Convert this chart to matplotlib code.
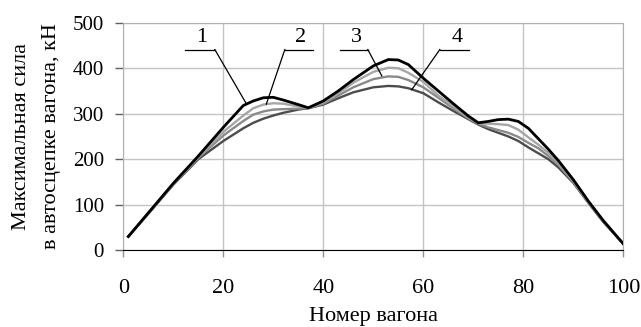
import numpy as np
import matplotlib.pyplot as plt

plt.rcParams['font.family'] = ['Liberation Serif', 'DejaVu Serif']

# номер вагона
x = [1, 5, 10, 15, 20, 24, 26, 28, 30, 32, 35, 37, 40, 43, 46, 50, 53, 55, 57,
     60, 63, 66, 69, 71, 73, 75, 77, 79, 81, 83, 85, 87, 90, 93, 96, 100]

# максимальная сила, кН
f1 = [30, 82, 147, 207, 270, 318, 328, 335, 336, 330, 320, 313, 328, 350, 375, 405, 419, 418, 408,
      378, 350, 322, 295, 280, 283, 287, 288, 283, 268, 245, 222, 197, 155, 108, 65, 14]
f2 = [30, 82, 146, 205, 260, 296, 312, 320, 323, 322, 316, 313, 325, 345, 368, 392, 401, 400, 390,
      370, 340, 316, 292, 279, 278, 277, 275, 265, 248, 232, 214, 192, 152, 106, 64, 14]
f3 = [30, 81, 145, 203, 252, 284, 298, 305, 309, 310, 311, 312, 322, 340, 358, 376, 382, 381, 374,
      358, 335, 312, 290, 278, 270, 264, 258, 249, 236, 224, 207, 188, 150, 105, 63, 14]
f4 = [30, 80, 144, 200, 240, 268, 280, 289, 296, 302, 309, 312, 320, 334, 347, 358, 361, 360, 356,
      345, 325, 306, 288, 276, 266, 258, 250, 240, 226, 213, 200, 182, 148, 104, 62, 14]

fig = plt.figure(figsize=(6.41, 3.27), dpi=100)
ax = fig.add_axes([0.1924, 0.2349, 0.78, 0.6957])

ax.plot(x, f4, color='#4c4c4c', lw=1.7, zorder=3)
ax.plot(x, f3, color='#8a8a8a', lw=1.7, zorder=3)
ax.plot(x, f2, color='#a6a6a6', lw=1.7, zorder=3)
ax.plot(x, f1, color='black', lw=2.0, zorder=4)

ax.set_xlim(0, 100)
ax.set_ylim(0, 500)
ax.set_xticks(np.arange(0, 101, 20))
ax.set_yticks(np.arange(0, 501, 100))
ax.grid(True, color='#c4c4c4', lw=1)
ax.set_axisbelow(True)
for s in ['top', 'right', 'left']:
    ax.spines[s].set_color('#b0b0b0')
ax.spines['bottom'].set_color('black')
ax.tick_params(axis='x', length=5, width=1, color='#909090', pad=16, labelsize=16)
ax.tick_params(axis='y', length=6, width=1, color='#606060', pad=8, labelsize=15)

ax.set_xlabel('Номер вагона', fontsize=16, va='center')
ax.xaxis.set_label_coords(0.5, -0.29)
ax.set_ylabel('Максимальная сила\nв автосцепке вагона, кН', fontsize=16,
              linespacing=1.75, va='center')
ax.yaxis.set_label_coords(-0.174, 0.5)

# подписи кривых с выносками
labels = ['1', '2', '3', '4']
text_x = [15.7, 35.5, 46.7, 66.7]
shelf = [(12.3, 18.3), (32.3, 37.9), (43.3, 48.9), (63.3, 69.1)]
start_x = [18.3, 32.3, 48.9, 63.3]
tip = [(24.6, 322), (28.6, 321), (51.7, 383), (57.7, 353)]
for lab, tx, (a, b), sx, (px, py) in zip(labels, text_x, shelf, start_x, tip):
    ax.text(tx, 447, lab, fontsize=16, ha='center', va='bottom')
    ax.plot([a, b], [441, 441], color='black', lw=0.9, clip_on=False, zorder=5)
    ax.plot([sx, px], [441, py], color='black', lw=0.9, zorder=5)

fig.savefig('out.png', dpi=100)
